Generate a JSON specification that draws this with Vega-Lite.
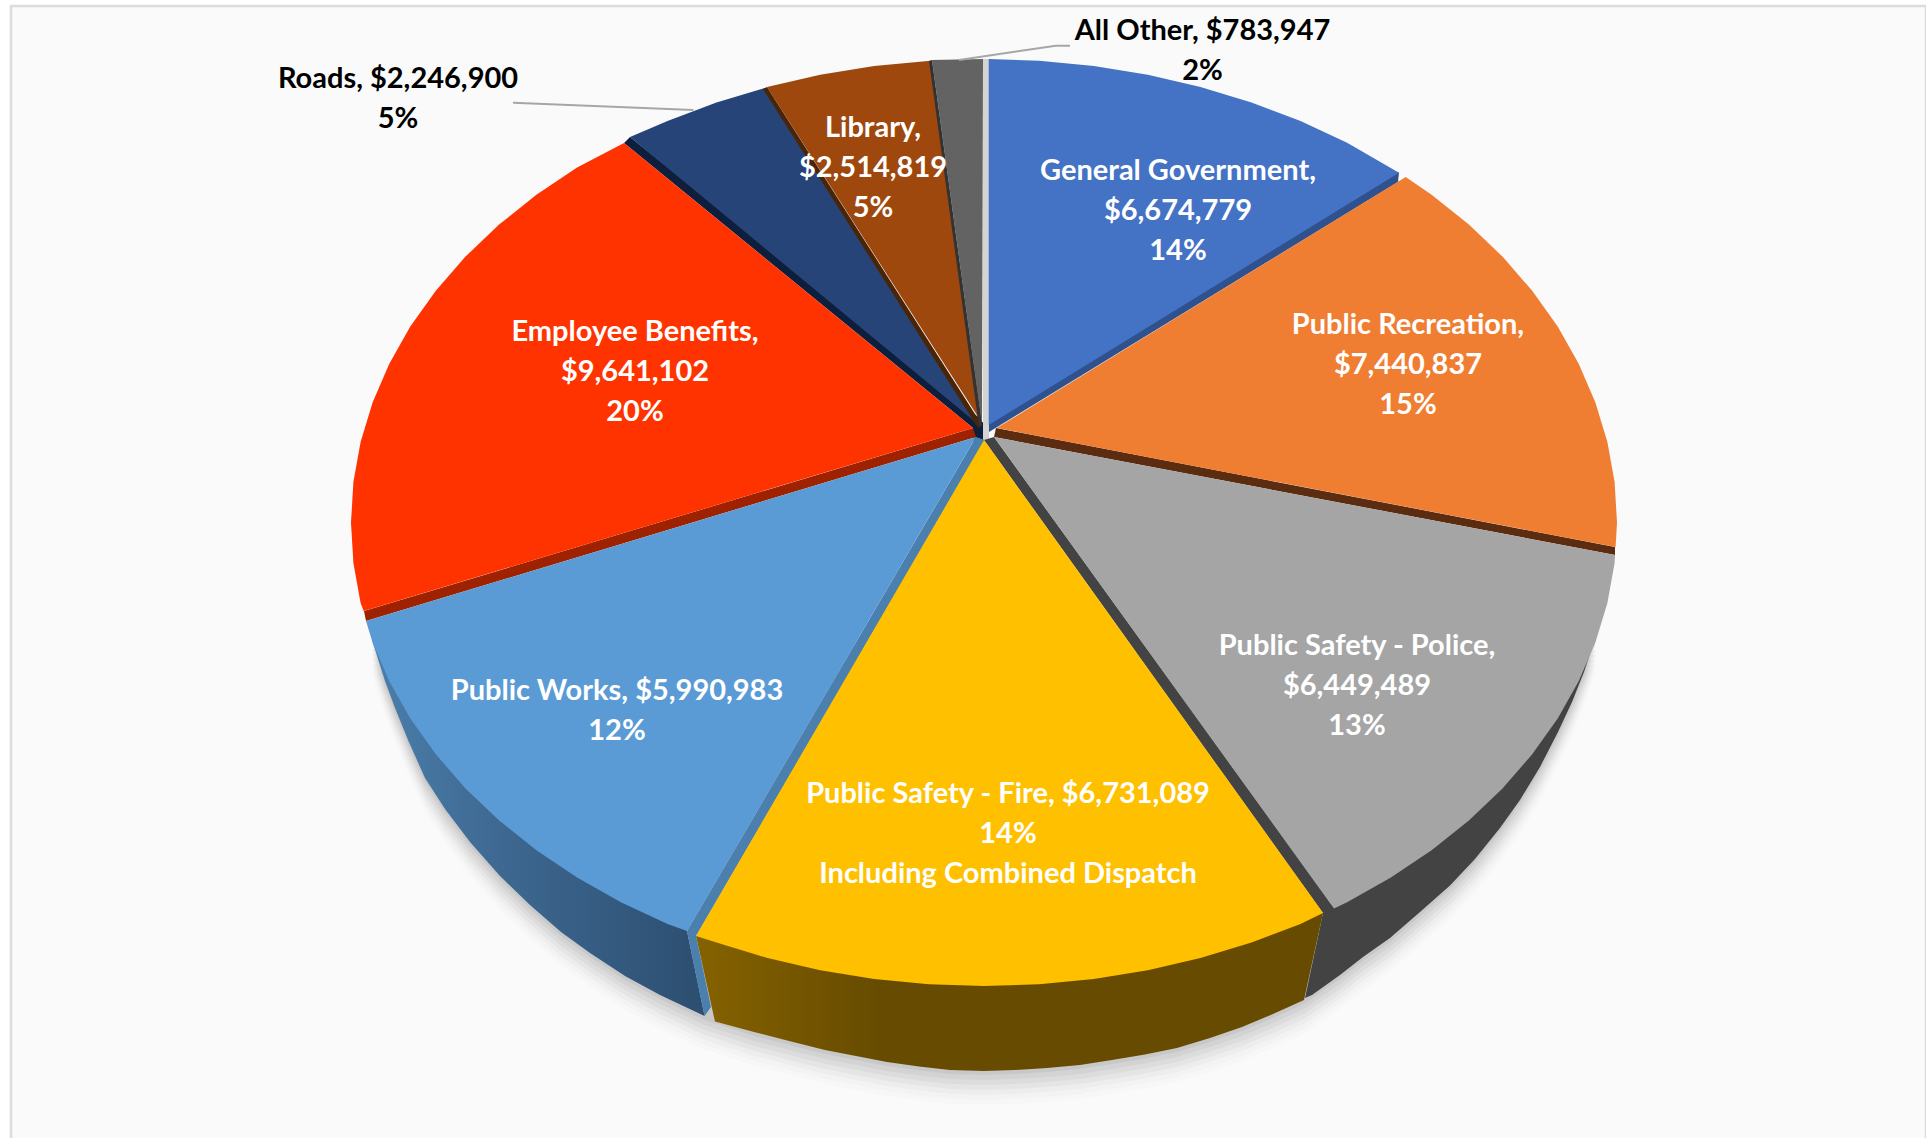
{"$schema":"https://vega.github.io/schema/vega-lite/v6.json","autosize":{"type":"none"},"padding":0,"width":1926,"height":1138,"background":"#ffffff","view":{"stroke":null},
"encoding":{"x":{"field":"x","type":"quantitative","axis":null,"scale":{"domain":[0,1926],"nice":false,"zero":false}},"y":{"field":"y","type":"quantitative","axis":null,"scale":{"domain":[1138,0],"nice":false,"zero":false}},"order":{"field":"seq"}},
"datasets":{
"frame":[{"seq":1,"x":11,"y":1138},{"seq":2,"x":11,"y":6},{"seq":3,"x":1926,"y":6},{"seq":4,"x":1926,"y":1138}],
"rim":[{"seq":1,"x":372,"y":640},{"seq":2,"x":385,"y":681},{"seq":3,"x":395,"y":708},{"seq":4,"x":408,"y":740},{"seq":5,"x":425,"y":778},{"seq":6,"x":445,"y":809},{"seq":7,"x":470,"y":842},{"seq":8,"x":500,"y":876},{"seq":9,"x":530,"y":905},{"seq":10,"x":561,"y":932},{"seq":11,"x":590,"y":953},{"seq":12,"x":625,"y":976},{"seq":13,"x":660,"y":995},{"seq":14,"x":704.6,"y":1016},{"seq":15,"x":754,"y":1032},{"seq":16,"x":793,"y":1042},{"seq":17,"x":825,"y":1050},{"seq":18,"x":856,"y":1056},{"seq":19,"x":887,"y":1062},{"seq":20,"x":919,"y":1066.5},{"seq":21,"x":950,"y":1070},{"seq":22,"x":984,"y":1071},{"seq":23,"x":1015,"y":1070},{"seq":24,"x":1047,"y":1068},{"seq":25,"x":1080,"y":1065},{"seq":26,"x":1112,"y":1060},{"seq":27,"x":1145,"y":1054.5},{"seq":28,"x":1177,"y":1048},{"seq":29,"x":1210,"y":1038},{"seq":30,"x":1242,"y":1027},{"seq":31,"x":1273,"y":1014},{"seq":32,"x":1304,"y":1000},{"seq":33,"x":1340,"y":975},{"seq":34,"x":1363,"y":957},{"seq":35,"x":1390,"y":938},{"seq":36,"x":1420,"y":912},{"seq":37,"x":1450,"y":885.5},{"seq":38,"x":1475,"y":859},{"seq":39,"x":1500,"y":828},{"seq":40,"x":1520,"y":800},{"seq":41,"x":1540,"y":767},{"seq":42,"x":1558,"y":732},{"seq":43,"x":1572,"y":702},{"seq":44,"x":1584,"y":672},{"seq":45,"x":1596,"y":636}],
"wallPolice":[{"seq":1,"x":1596,"y":636},{"seq":2,"x":1323,"y":913},{"seq":3,"x":1305,"y":998},{"seq":4,"x":1312,"y":995},{"seq":5,"x":1340,"y":975},{"seq":6,"x":1363,"y":957},{"seq":7,"x":1390,"y":938},{"seq":8,"x":1420,"y":912},{"seq":9,"x":1450,"y":885.5},{"seq":10,"x":1475,"y":859},{"seq":11,"x":1500,"y":828},{"seq":12,"x":1520,"y":800},{"seq":13,"x":1540,"y":767},{"seq":14,"x":1558,"y":732},{"seq":15,"x":1572,"y":702},{"seq":16,"x":1584,"y":672}],
"wallWorks":[{"seq":1,"x":372,"y":640},{"seq":2,"x":687,"y":931},{"seq":3,"x":704.6,"y":1016},{"seq":4,"x":660,"y":995},{"seq":5,"x":625,"y":976},{"seq":6,"x":590,"y":953},{"seq":7,"x":561,"y":932},{"seq":8,"x":530,"y":905},{"seq":9,"x":500,"y":876},{"seq":10,"x":470,"y":842},{"seq":11,"x":445,"y":809},{"seq":12,"x":425,"y":778},{"seq":13,"x":408,"y":740},{"seq":14,"x":395,"y":708},{"seq":15,"x":385,"y":681}],
"wallFire":[{"seq":1,"x":696,"y":936},{"seq":2,"x":1323,"y":913},{"seq":3,"x":1304,"y":1000},{"seq":4,"x":1273,"y":1014},{"seq":5,"x":1242,"y":1027},{"seq":6,"x":1210,"y":1038},{"seq":7,"x":1177,"y":1048},{"seq":8,"x":1145,"y":1054.5},{"seq":9,"x":1112,"y":1060},{"seq":10,"x":1080,"y":1065},{"seq":11,"x":1047,"y":1068},{"seq":12,"x":1015,"y":1070},{"seq":13,"x":984,"y":1071},{"seq":14,"x":950,"y":1070},{"seq":15,"x":919,"y":1066.5},{"seq":16,"x":887,"y":1062},{"seq":17,"x":856,"y":1056},{"seq":18,"x":825,"y":1050},{"seq":19,"x":793,"y":1042},{"seq":20,"x":754,"y":1032},{"seq":21,"x":715,"y":1021.6}],
"faces":[
{"part":"hub","seq":1,"x":973,"y":425},{"part":"hub","seq":2,"x":983,"y":422},{"part":"hub","seq":3,"x":984,"y":440},{"part":"hub","seq":4,"x":977,"y":452},{"part":"hub","seq":5,"x":973,"y":440},
{"part":"gap","seq":1,"x":983,"y":59},{"part":"gap","seq":2,"x":989,"y":59},{"part":"gap","seq":3,"x":989,"y":440},{"part":"gap","seq":4,"x":983,"y":440},
{"part":"sideGov","seq":1,"x":989,"y":423},{"part":"sideGov","seq":2,"x":1399,"y":172},{"part":"sideGov","seq":3,"x":1398,"y":182},{"part":"sideGov","seq":4,"x":989,"y":432},
{"part":"sideRec","seq":1,"x":996,"y":428},{"part":"sideRec","seq":2,"x":1615,"y":547},{"part":"sideRec","seq":3,"x":1615,"y":555},{"part":"sideRec","seq":4,"x":994,"y":437},
{"part":"sidePolice","seq":1,"x":994,"y":437},{"part":"sidePolice","seq":2,"x":1334,"y":908},{"part":"sidePolice","seq":3,"x":1323,"y":913},{"part":"sidePolice","seq":4,"x":984,"y":440},
{"part":"sideEmp","seq":1,"x":973,"y":428},{"part":"sideEmp","seq":2,"x":364,"y":611},{"part":"sideEmp","seq":3,"x":366,"y":621},{"part":"sideEmp","seq":4,"x":976,"y":437},
{"part":"sideRoads","seq":1,"x":630,"y":137},{"part":"sideRoads","seq":2,"x":624,"y":143},{"part":"sideRoads","seq":3,"x":973,"y":428},{"part":"sideRoads","seq":4,"x":982,"y":440},{"part":"sideRoads","seq":5,"x":982,"y":420},
{"part":"sideWorks","seq":1,"x":976,"y":437},{"part":"sideWorks","seq":2,"x":985,"y":440},{"part":"sideWorks","seq":3,"x":696,"y":936},{"part":"sideWorks","seq":4,"x":711,"y":1007},{"part":"sideWorks","seq":5,"x":704.6,"y":1016},{"part":"sideWorks","seq":6,"x":687,"y":931},
{"part":"General Government","seq":1,"x":988.7,"y":425},{"part":"General Government","seq":2,"x":988.7,"y":59},{"part":"General Government","seq":3,"x":1039.2,"y":60.8},{"part":"General Government","seq":4,"x":1093.9,"y":66},{"part":"General Government","seq":5,"x":1147.8,"y":74.8},{"part":"General Government","seq":6,"x":1200.5,"y":87},{"part":"General Government","seq":7,"x":1251.5,"y":102.4},{"part":"General Government","seq":8,"x":1300.5,"y":121.1},{"part":"General Government","seq":9,"x":1347.1,"y":142.8},{"part":"General Government","seq":10,"x":1399,"y":172.7},
{"part":"Public Recreation","seq":1,"x":996.7,"y":428},{"part":"Public Recreation","seq":2,"x":1405.7,"y":177},{"part":"Public Recreation","seq":3,"x":1431.6,"y":194.8},{"part":"Public Recreation","seq":4,"x":1468.9,"y":224.6},{"part":"Public Recreation","seq":5,"x":1502.5,"y":256.6},{"part":"Public Recreation","seq":6,"x":1532.2,"y":290.8},{"part":"Public Recreation","seq":7,"x":1557.7,"y":326.6},{"part":"Public Recreation","seq":8,"x":1578.8,"y":364},{"part":"Public Recreation","seq":9,"x":1595.4,"y":402.5},{"part":"Public Recreation","seq":10,"x":1607.4,"y":442},{"part":"Public Recreation","seq":11,"x":1614.6,"y":482.1},{"part":"Public Recreation","seq":12,"x":1617,"y":522.5},{"part":"Public Recreation","seq":13,"x":1615.6,"y":547},
{"part":"Public Safety - Police","seq":1,"x":994,"y":437},{"part":"Public Safety - Police","seq":2,"x":1615,"y":555},{"part":"Public Safety - Police","seq":3,"x":1614.6,"y":562.9},{"part":"Public Safety - Police","seq":4,"x":1607.4,"y":603},{"part":"Public Safety - Police","seq":5,"x":1595.4,"y":642.5},{"part":"Public Safety - Police","seq":6,"x":1578.8,"y":681},{"part":"Public Safety - Police","seq":7,"x":1557.7,"y":718.4},{"part":"Public Safety - Police","seq":8,"x":1532.2,"y":754.3},{"part":"Public Safety - Police","seq":9,"x":1502.5,"y":788.4},{"part":"Public Safety - Police","seq":10,"x":1468.9,"y":820.4},{"part":"Public Safety - Police","seq":11,"x":1431.6,"y":850.2},{"part":"Public Safety - Police","seq":12,"x":1390.9,"y":877.6},{"part":"Public Safety - Police","seq":13,"x":1347.1,"y":902.2},{"part":"Public Safety - Police","seq":14,"x":1334,"y":908.6},
{"part":"Public Safety - Fire","seq":1,"x":984,"y":440},{"part":"Public Safety - Fire","seq":2,"x":1323,"y":913},{"part":"Public Safety - Fire","seq":3,"x":1300.5,"y":923.9},{"part":"Public Safety - Fire","seq":4,"x":1251.5,"y":942.6},{"part":"Public Safety - Fire","seq":5,"x":1200.5,"y":958},{"part":"Public Safety - Fire","seq":6,"x":1147.8,"y":970.2},{"part":"Public Safety - Fire","seq":7,"x":1093.9,"y":979},{"part":"Public Safety - Fire","seq":8,"x":1039.2,"y":984.2},{"part":"Public Safety - Fire","seq":9,"x":984,"y":986},{"part":"Public Safety - Fire","seq":10,"x":928.8,"y":984.2},{"part":"Public Safety - Fire","seq":11,"x":874.1,"y":979},{"part":"Public Safety - Fire","seq":12,"x":820.2,"y":970.2},{"part":"Public Safety - Fire","seq":13,"x":767.5,"y":958},{"part":"Public Safety - Fire","seq":14,"x":716.5,"y":942.6},{"part":"Public Safety - Fire","seq":15,"x":696,"y":936},
{"part":"Public Works","seq":1,"x":976,"y":437},{"part":"Public Works","seq":2,"x":687,"y":931},{"part":"Public Works","seq":3,"x":667.5,"y":923.9},{"part":"Public Works","seq":4,"x":620.9,"y":902.2},{"part":"Public Works","seq":5,"x":577.1,"y":877.6},{"part":"Public Works","seq":6,"x":536.4,"y":850.2},{"part":"Public Works","seq":7,"x":499.1,"y":820.4},{"part":"Public Works","seq":8,"x":465.5,"y":788.4},{"part":"Public Works","seq":9,"x":435.8,"y":754.3},{"part":"Public Works","seq":10,"x":410.3,"y":718.4},{"part":"Public Works","seq":11,"x":389.2,"y":681},{"part":"Public Works","seq":12,"x":372.6,"y":642.5},{"part":"Public Works","seq":13,"x":366,"y":621},
{"part":"Employee Benefits","seq":1,"x":973,"y":428},{"part":"Employee Benefits","seq":2,"x":363.7,"y":611},{"part":"Employee Benefits","seq":3,"x":360.6,"y":603},{"part":"Employee Benefits","seq":4,"x":353.4,"y":562.9},{"part":"Employee Benefits","seq":5,"x":351,"y":522.5},{"part":"Employee Benefits","seq":6,"x":353.4,"y":482.1},{"part":"Employee Benefits","seq":7,"x":360.6,"y":442},{"part":"Employee Benefits","seq":8,"x":372.6,"y":402.5},{"part":"Employee Benefits","seq":9,"x":389.2,"y":364},{"part":"Employee Benefits","seq":10,"x":410.3,"y":326.6},{"part":"Employee Benefits","seq":11,"x":435.8,"y":290.8},{"part":"Employee Benefits","seq":12,"x":465.5,"y":256.6},{"part":"Employee Benefits","seq":13,"x":499.1,"y":224.6},{"part":"Employee Benefits","seq":14,"x":536.4,"y":194.8},{"part":"Employee Benefits","seq":15,"x":577.1,"y":167.4},{"part":"Employee Benefits","seq":16,"x":624,"y":143},
{"part":"Roads","seq":1,"x":979,"y":425},{"part":"Roads","seq":2,"x":630,"y":137},{"part":"Roads","seq":3,"x":667.5,"y":121.1},{"part":"Roads","seq":4,"x":716.5,"y":102.4},{"part":"Roads","seq":5,"x":765,"y":88},
{"part":"Library","seq":1,"x":982,"y":423},{"part":"Library","seq":2,"x":767,"y":87},{"part":"Library","seq":3,"x":820.2,"y":74.8},{"part":"Library","seq":4,"x":874.1,"y":66},{"part":"Library","seq":5,"x":930.5,"y":60.7},
{"part":"sideLibrary","seq":1,"x":767,"y":87},{"part":"sideLibrary","seq":2,"x":763,"y":89},{"part":"sideLibrary","seq":3,"x":978,"y":428},{"part":"sideLibrary","seq":4,"x":982,"y":425},
{"part":"All Other","seq":1,"x":982,"y":425},{"part":"All Other","seq":2,"x":932,"y":60},{"part":"All Other","seq":3,"x":983,"y":59},
{"part":"sideOther","seq":1,"x":932,"y":60},{"part":"sideOther","seq":2,"x":929,"y":61},{"part":"sideOther","seq":3,"x":979,"y":427},{"part":"sideOther","seq":4,"x":982,"y":425}
],
"leaders":[{"category":"All Other","seq":1,"x":1070,"y":45.7},{"category":"All Other","seq":2,"x":1055.7,"y":45.7},{"category":"All Other","seq":3,"x":959,"y":60},{"category":"Roads","seq":1,"x":513,"y":102.7},{"category":"Roads","seq":2,"x":693.5,"y":110}],
"slices":[
{"category":"General Government","amount":6674779,"share":14,"label":"General Government,\n$6,674,779\n14%","lx":1178,"ly":171},
{"category":"Public Recreation","amount":7440837,"share":15,"label":"Public Recreation,\n$7,440,837\n15%","lx":1408,"ly":324.5},
{"category":"Public Safety - Police","amount":6449489,"share":13,"label":"Public Safety - Police,\n$6,449,489\n13%","lx":1357,"ly":645.5},
{"category":"Public Safety - Fire","amount":6731089,"share":14,"label":"Public Safety - Fire, $6,731,089\n14%\nIncluding Combined Dispatch","lx":1008,"ly":793.5},
{"category":"Public Works","amount":5990983,"share":12,"label":"Public Works, $5,990,983\n12%","lx":617,"ly":690.5},
{"category":"Employee Benefits","amount":9641102,"share":20,"label":"Employee Benefits,\n$9,641,102\n20%","lx":635,"ly":331.5},
{"category":"Roads","amount":2246900,"share":5,"label":"Roads, $2,246,900\n5%","lx":398,"ly":78.5},
{"category":"Library","amount":2514819,"share":5,"label":"Library,\n$2,514,819\n5%","lx":873,"ly":128},
{"category":"All Other","amount":783947,"share":2,"label":"All Other, $783,947\n2%","lx":1202.5,"ly":31}
]},
"layer":[
{"data":{"name":"frame"},"mark":{"type":"line","filled":true,"fill":"#fafafa","stroke":"#dcdcdc","strokeWidth":2.5}},
{"data":{"name":"rim"},"mark":{"type":"line","filled":true,"fill":"#000000","fillOpacity":0.012,"stroke":null,"yOffset":34}},
{"data":{"name":"rim"},"mark":{"type":"line","filled":true,"fill":"#000000","fillOpacity":0.016,"stroke":null,"yOffset":29}},
{"data":{"name":"rim"},"mark":{"type":"line","filled":true,"fill":"#000000","fillOpacity":0.022,"stroke":null,"yOffset":24}},
{"data":{"name":"rim"},"mark":{"type":"line","filled":true,"fill":"#000000","fillOpacity":0.03,"stroke":null,"yOffset":19}},
{"data":{"name":"rim"},"mark":{"type":"line","filled":true,"fill":"#000000","fillOpacity":0.035,"stroke":null,"yOffset":14}},
{"data":{"name":"rim"},"mark":{"type":"line","filled":true,"fill":"#000000","fillOpacity":0.04,"stroke":null,"yOffset":9}},
{"data":{"name":"rim"},"mark":{"type":"line","filled":true,"fill":"#000000","fillOpacity":0.05,"stroke":null,"yOffset":4}},
{"data":{"name":"wallPolice"},"mark":{"type":"line","filled":true,"fill":"#434343","stroke":null}},
{"data":{"name":"wallWorks"},"mark":{"type":"line","filled":true,"stroke":null,"fill":{"gradient":"linear","x1":0,"y1":0,"x2":1,"y2":0,"stops":[{"offset":0,"color":"#4a7fab"},{"offset":0.35,"color":"#3f6a93"},{"offset":1,"color":"#2c4e70"}]}}},
{"data":{"name":"wallFire"},"mark":{"type":"line","filled":true,"stroke":null,"fill":{"gradient":"linear","x1":0,"y1":0,"x2":1,"y2":0,"stops":[{"offset":0,"color":"#856200"},{"offset":0.3,"color":"#664b00"},{"offset":1,"color":"#664b00"}]}}},
{"data":{"name":"faces"},"mark":{"type":"line","filled":true,"stroke":null},"encoding":{"color":{"field":"part","type":"nominal","legend":null,"sort":null,"scale":{"domain":["hub","gap","sideGov","sideRec","sidePolice","sideEmp","sideRoads","sideWorks","sideLibrary","sideOther","General Government","Public Recreation","Public Safety - Police","Public Safety - Fire","Public Works","Employee Benefits","Roads","Library","All Other"],"range":["#0e1f3d","#d4d4d4","#2f528f","#5c2c10","#434343","#9e2100","#0e1f3d","#4a7fae","#4a2406","#333333","#4472c4","#f07e32","#a5a5a5","#ffc000","#5b9bd5","#ff3300","#264478","#9e480e","#636363"]}}}},
{"data":{"name":"leaders"},"mark":{"type":"line","stroke":"#a6a6a6","strokeWidth":2},"encoding":{"detail":{"field":"category"}}},
{"data":{"name":"slices"},"transform":[{"filter":{"field":"category","oneOf":["Roads","All Other"]}}],"mark":{"type":"text","font":"Lato","fontWeight":"bold","fontSize":29,"lineHeight":40,"lineBreak":"\n","align":"center","baseline":"middle","color":"#000000"},"encoding":{"x":{"field":"lx","type":"quantitative"},"y":{"field":"ly","type":"quantitative"},"order":null,"text":{"field":"label"}}},
{"data":{"name":"slices"},"transform":[{"filter":{"not":{"field":"category","oneOf":["Roads","All Other"]}}}],"mark":{"type":"text","font":"Lato","fontWeight":"bold","fontSize":29,"lineHeight":40,"lineBreak":"\n","align":"center","baseline":"middle","color":"#ffffff"},"encoding":{"x":{"field":"lx","type":"quantitative"},"y":{"field":"ly","type":"quantitative"},"order":null,"text":{"field":"label"}}}
]}
